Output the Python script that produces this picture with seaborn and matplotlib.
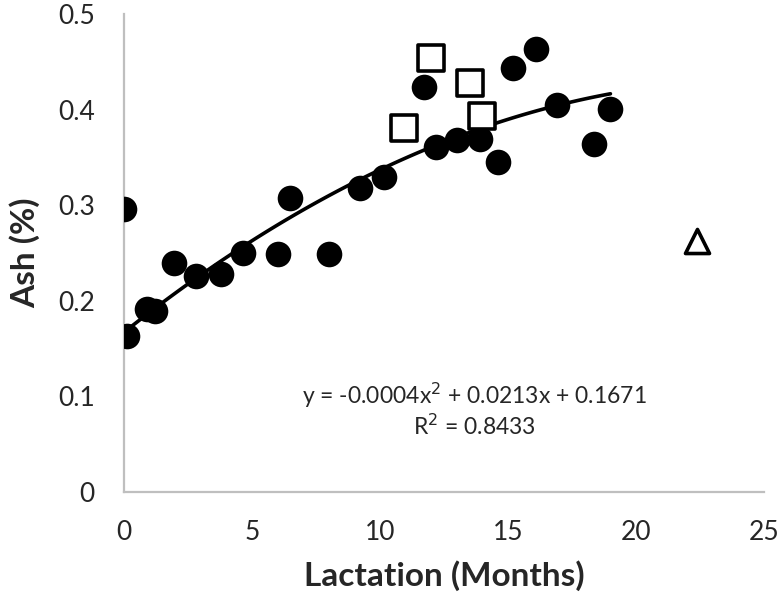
import matplotlib
matplotlib.use("Agg")
import matplotlib.pyplot as plt
import seaborn as sns
import numpy as np
import pandas as pd

# --- data ---
circle_x = [0.0, 0.1, 0.9, 1.2, 1.97, 2.8, 3.8, 4.65, 6.0, 6.5, 8.0, 9.2, 10.15,
            11.7, 12.2, 13.0, 13.9, 14.6, 15.2, 16.1, 16.9, 18.35, 19.0]
circle_y = [0.296, 0.163, 0.191, 0.189, 0.240, 0.226, 0.228, 0.250, 0.249, 0.308,
            0.249, 0.318, 0.329, 0.424, 0.361, 0.368, 0.369, 0.345, 0.444, 0.463,
            0.405, 0.364, 0.401]
square_x = [10.95, 12.0, 13.5, 14.0]
square_y = [0.381, 0.454, 0.428, 0.393]
triangle_x = [22.4]
triangle_y = [0.263]

# polynomial trendline; the label rounds the x^2 term, the drawn curve
# ends near 0.415 at x=19 which fits about -0.00043
trend_coef = [-0.00043, 0.0213, 0.1671]

x_ticks = [0, 5, 10, 15, 20, 25]
y_ticks = [0, 0.1, 0.2, 0.3, 0.4, 0.5]
y_tick_labels = ["0", "0.1", "0.2", "0.3", "0.4", "0.5"]
equation = "y = -0.0004x$^2$ + 0.0213x + 0.1671\nR$^2$ = 0.8433"

circles = pd.DataFrame({"month": circle_x, "ash": circle_y})
squares = pd.DataFrame({"month": square_x, "ash": square_y})
triangles = pd.DataFrame({"month": triangle_x, "ash": triangle_y})

trend_x = np.linspace(min(circle_x), max(circle_x), 100)
trend = pd.DataFrame({"month": trend_x, "ash": np.polyval(trend_coef, trend_x)})

sns.set_style("white")
plt.rcParams["font.family"] = ["Lato", "DejaVu Sans"]

fig = plt.figure(figsize=(7.81, 5.99), dpi=100)
ax = fig.add_axes([0.1588, 0.1786, 0.8195, 0.798])

sns.lineplot(data=trend, x="month", y="ash", color="black", lw=2.6, ax=ax)

sns.scatterplot(data=circles, x="month", y="ash", marker="o", s=340,
                color="black", edgecolor="black", linewidth=0, zorder=3, ax=ax)
sns.scatterplot(data=squares, x="month", y="ash", marker="s", s=330,
                facecolor="white", edgecolor="black", linewidth=2.6, zorder=3, ax=ax)
sns.scatterplot(data=triangles, x="month", y="ash", marker="^", s=300,
                facecolor="white", edgecolor="black", linewidth=2.6, zorder=3, ax=ax)

ax.set_xlim(0, 25)
ax.set_ylim(0, 0.5)
ax.set_xticks(x_ticks)
ax.set_yticks(y_ticks)
ax.set_yticklabels(y_tick_labels)
ax.tick_params(axis="both", length=0, labelsize=19)
ax.tick_params(axis="x", pad=20)
ax.tick_params(axis="y", pad=21)

for side in ["top", "right"]:
    ax.spines[side].set_visible(False)
for side in ["left", "bottom"]:
    ax.spines[side].set_color("#BFBFBF")
    ax.spines[side].set_linewidth(1.6)

ax.set_xlabel("Lactation (Months)", fontsize=24, fontweight="bold", labelpad=11)
ax.set_ylabel("Ash (%)", fontsize=24, fontweight="bold", labelpad=13)

ax.text(13.7, 0.086, equation, ha="center", va="center", fontsize=16.5,
        linespacing=1.15)

fig.savefig("out.png", dpi=100)
